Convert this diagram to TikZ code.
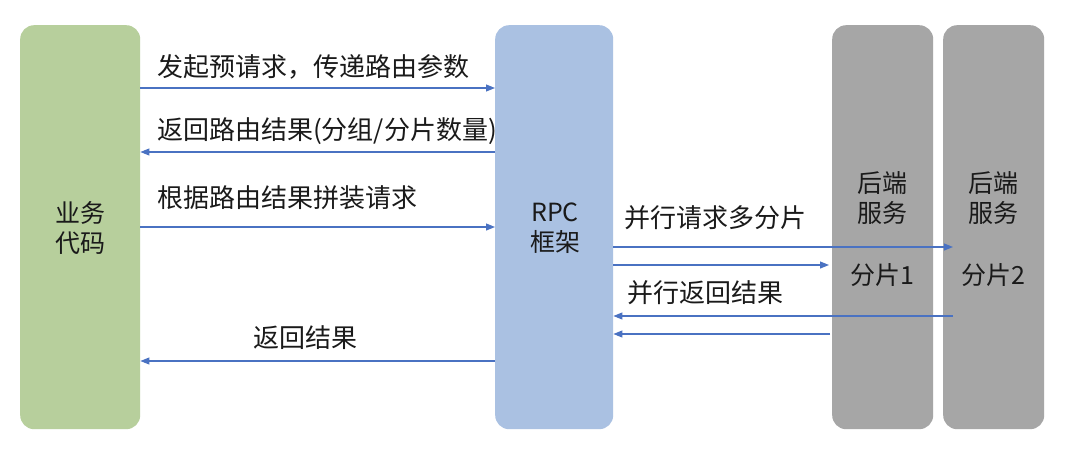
\documentclass[tikz,border=0pt]{standalone}
\usepackage{fontspec}
\setmainfont{Noto Sans CJK SC}
\usetikzlibrary{arrows.meta}
\definecolor{bizgreen}{HTML}{B7CF9C}
\definecolor{rpcblue}{HTML}{AAC1E2}
\definecolor{backgray}{HTML}{A6A6A6}
\definecolor{arrowblue}{HTML}{4A72C2}
\definecolor{txt}{HTML}{1A1A1A}
\begin{document}
\begin{tikzpicture}[x=1pt,y=-1pt,
  col/.style={draw=none,rounded corners=14pt,inner sep=0pt,minimum height=404pt,anchor=north west},
  lbl/.style={inner sep=0pt,anchor=west,text=txt,font=\fontsize{26}{30}\selectfont},
  boxtxt/.style={inner sep=0pt,align=center,text=txt,font=\fontsize{25}{30}\selectfont},
  conn/.style={draw=arrowblue,line width=1.1pt,-{Triangle[length=9pt,width=7pt]}}]
\useasboundingbox (0,0) rectangle (1080,450);
\fill[white] (0,0) rectangle (1080,450);
% columns
\node[col,fill=bizgreen,minimum width=120pt] (biz) at (20,25) {};
\node[col,fill=rpcblue,minimum width=118pt] (rpc) at (495,25) {};
\node[col,fill=backgray,minimum width=101pt] (g1) at (832,25) {};
\node[col,fill=backgray,minimum width=101pt] (g2) at (943,25) {};
% column texts
\node[boxtxt] (tbiz) at (80,228) {业务\\代码};
\node[boxtxt] (trpc) at (555,228) {RPC\\框架};
\node[boxtxt] (tg1a) at (882,198) {后端\\服务};
\node[boxtxt] (tg1b) at (882,275) {分片1};
\node[boxtxt] (tg2a) at (993,198) {后端\\服务};
\node[boxtxt] (tg2b) at (993,275) {分片2};
% labels
\node[lbl] (l1) at (157,67) {发起预请求，传递路由参数};
\node[lbl] (l2) at (157,131) {返回路由结果(分组/分片数量)};
\node[lbl] (l3) at (157,198) {根据路由结果拼装请求};
\node[lbl] (l4) at (253,338) {返回结果};
\node[lbl] (l5) at (624,218) {并行请求多分片};
\node[lbl] (l6) at (627,293) {并行返回结果};
% connectors
\draw[conn] (biz.east |- 0,88) -- (rpc.west |- 0,88);
\draw[conn] (rpc.west |- 0,152) -- (biz.east |- 0,152);
\draw[conn] (biz.east |- 0,227) -- (rpc.west |- 0,227);
\draw[conn] (rpc.west |- 0,361) -- (biz.east |- 0,361);
\draw[conn] (rpc.east |- 0,247) -- ([xshift=10pt]g2.west |- 0,247);
\draw[conn] (rpc.east |- 0,265) -- ([xshift=-3pt]g1.west |- 0,265);
\draw[conn] ([xshift=10pt]g2.west |- 0,316) -- (rpc.east |- 0,316);
\draw[conn] ([xshift=-2pt]g1.west |- 0,334) -- (rpc.east |- 0,334);
\end{tikzpicture}
\end{document}
